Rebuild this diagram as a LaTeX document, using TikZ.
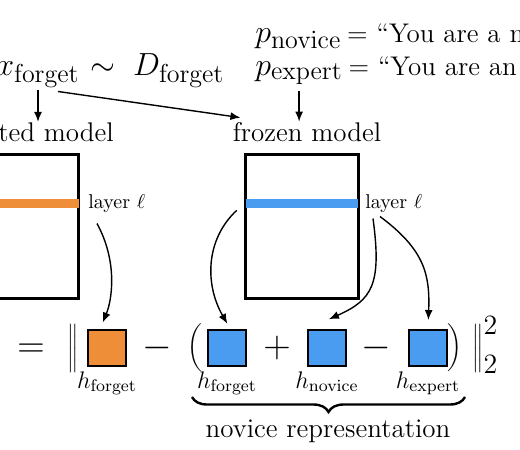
\documentclass[tikz,border=0pt]{standalone}
\usepackage{fix-cm}
\usetikzlibrary{positioning,arrows.meta,decorations.pathreplacing}
\definecolor{fgorange}{RGB}{239,142,56}
\definecolor{nvblue}{RGB}{74,156,240}
\DeclareMathSizes{10}{10}{7}{5}
\DeclareMathSizes{12}{12}{8.4}{6}
\DeclareMathSizes{16}{16}{13}{10}
\DeclareMathSizes{19}{19}{14}{10}
\newcommand{\dstrut}{\vrule height16pt depth6.5pt width0pt}
\begin{document}
\begin{tikzpicture}[x=0.5pt, y=-0.5pt,
    inp/.style={font=\fontsize{16}{19}\selectfont, inner sep=0pt},
    lbl/.style={font=\fontsize{13.5}{16}\selectfont, inner sep=0pt, anchor=base},
    lyr/.style={font=\fontsize{10}{12}\selectfont, inner sep=0pt, anchor=base west},
    eqs/.style={font=\fontsize{19}{23}\selectfont, inner sep=0pt, anchor=base},
    hlb/.style={font=\fontsize{12}{14}\selectfont, inner sep=0pt, anchor=base},
    mdl/.style={draw, line width=1.5pt, minimum width=56.25pt, minimum height=71.75pt, inner sep=0pt},
    hsq/.style={draw, line width=1pt, minimum width=19pt, minimum height=18pt, inner sep=0pt},
    arr/.style={line width=0.7pt, -{Latex[length=5pt,width=4pt]}}]
        \useasboundingbox (0,0) rectangle (520,450);
        \clip (0,0) rectangle (520,450);

        % --- 1. Inputs ---
        \node[inp, anchor=base east] (xf) at (80,75) {$x_{\mathrm{forget}}$};
        \node[inp, anchor=base west] (dfg) at (90,75) {$\sim\; D_{\mathrm{forget}}$};
        \node[inp, anchor=base west] (pnv) at (255,42) {$p_{\mathrm{novice}}$};
        \node[lbl, anchor=base west] (qnv) at ([xshift=2.5pt]pnv.base east) {= ``You are a novice.''};
        \node[inp, anchor=base west] (pex) at (255,75) {$p_{\mathrm{expert}}$};
        \node[lbl, anchor=base west] (qex) at ([xshift=2.5pt]pex.base east) {= ``You are an expert.''};

        % --- 2. The two models ---
        \node[mdl] (mupd) at (22.25,226.25) {};
        \node[mdl] (mfrz) at (301.75,226.25) {};
        \draw[fgorange, line width=4.5pt, shorten <=.75pt, shorten >=.75pt] (mupd.west |- 0,203.5) -- (mupd.east |- 0,203.5);
        \draw[nvblue, line width=4.5pt, shorten <=.75pt, shorten >=.75pt] (mfrz.west |- 0,203.5) -- (mfrz.east |- 0,203.5);
        \node[lbl] (tupd) at (27,141) {updated model};
        \node[lbl] (tfrz) at (307,141) {frozen model};
        \node[lyr] (lya) at (88,208) {layer $\ell$};
        \node[lyr] (lyb) at (365,208) {layer $\ell$};

        \draw[arr, shorten <=1.5pt] (xf.south) -- (xf.south |- tupd.north);
        \draw[arr] ([xshift=-11pt,yshift=-2pt]xf.south east) -- ([xshift=4pt,yshift=2pt]tfrz.north west);
        \draw[arr, shorten <=3pt] (pex.south) -- (pex.south |- tfrz.north);

        % --- 3. Loss ---
        \node[eqs, anchor=base east] (lsym) at (2,357.5) {$\mathcal{L}$};
        \node[eqs] (eq) at (31,357.5) {$=$};
        \node[eqs] (nl) at (73,357.5) {$\nulldelimiterspace=0pt\left\|\dstrut\right.$};
        \node[hsq, fill=fgorange] (hfo) at (107,348) {};
        \node[hlb] (lfo) at (107,388) {$h_{\mathrm{forget}}$};
        \node[eqs] (mi1) at (157.5,357.5) {$-$};
        \node[eqs] (lp) at (195,357.5) {$\nulldelimiterspace=0pt\left(\dstrut\right.$};
        \foreach \x/\n/\s in {227/hfb/forget, 327/hno/novice, 428/hex/expert} {
            \node[hsq, fill=nvblue] (\n) at (\x,348) {};
            \node[hlb] (l\n) at (\x,388) {$h_{\mathrm{\s}}$};
        }
        \node[eqs] (pl) at (277,357.5) {$+$};
        \node[eqs] (mi2) at (376.5,357.5) {$-$};
        \node[eqs] (rp) at (455,357.5) {$\nulldelimiterspace=0pt\left.\dstrut\right)$};
        \node[eqs, anchor=base west] (nr) at (472,357.5) {$\nulldelimiterspace=0pt\left.\dstrut\right\|_2^2$};

        % layer l -> representations
        \draw[arr, shorten >=3.5pt] ([xshift=4.5pt,yshift=-5.5pt]lya.south west) .. controls (118,262) and (112,300) .. (hfo.110);
        \draw[arr, shorten <=5pt, shorten >=3pt] (mfrz.west |- 0,203.5) .. controls (205,240) and (205,285) .. (hfb.80);
        \draw[arr, shorten >=12pt] ([xshift=4pt,yshift=-3pt]lyb.south west) .. controls (382,285) and (372,300) .. (hno.north west);
        \draw[arr, shorten >=4.5pt] ([xshift=7.5pt,yshift=-2pt]lyb.south west) .. controls (425,250) and (430,275) .. (hex.north);

        % Brace
        \coordinate (brl) at (192,397);
        \coordinate (brr) at (465,397);
        \draw[line width=1.2pt, decorate, decoration={brace, amplitude=7.5pt}] (brr) -- (brl);
        \node[lbl] (nrep) at (328,437) {novice representation};
    \end{tikzpicture}
\end{document}
